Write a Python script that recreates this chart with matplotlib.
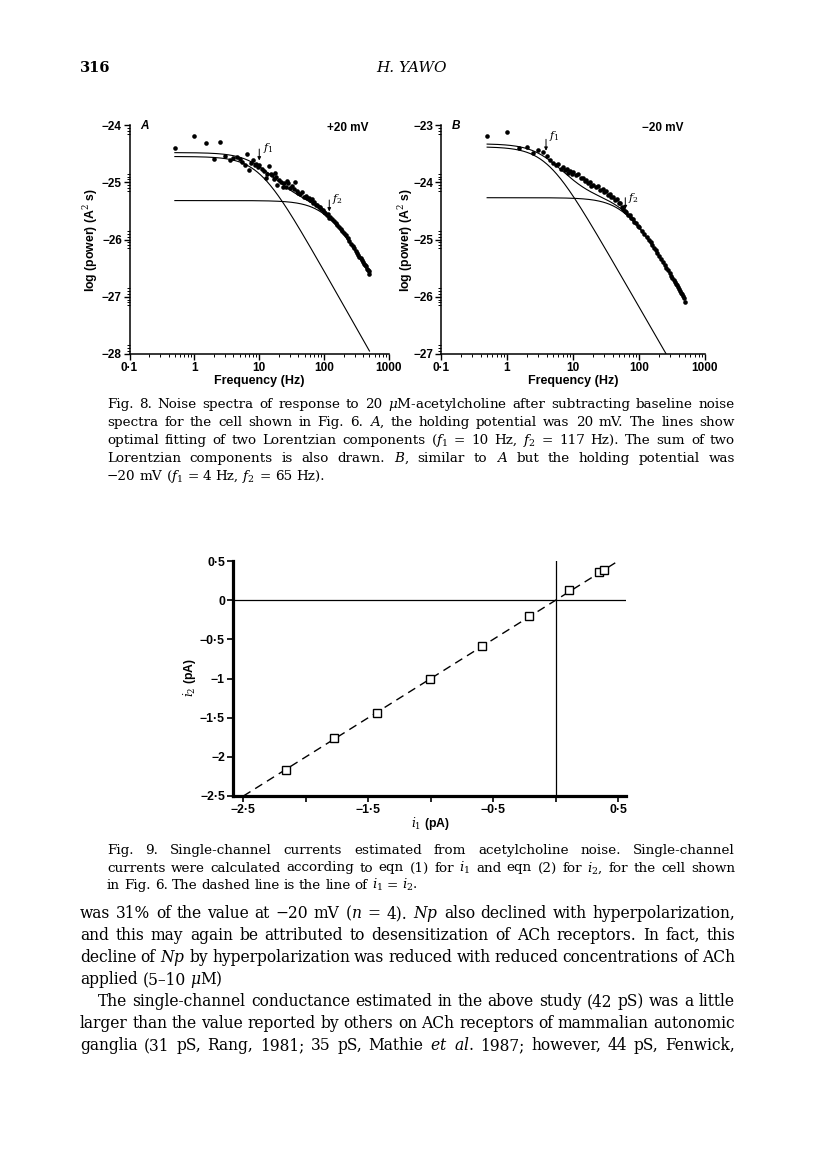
import matplotlib
matplotlib.use("Agg")
import matplotlib.pyplot as plt
import numpy as np
from matplotlib.ticker import FixedLocator, NullFormatter

plt.rcParams["font.family"] = "sans-serif"
plt.rcParams["font.sans-serif"] = ["Liberation Sans", "DejaVu Sans"]
plt.rcParams["mathtext.fontset"] = "dejavuserif"

W, H = 816, 1170

# === Fig. 8 data ===
# A: +20 mV, Lorentzian fit f1 = 10 Hz, f2 = 117 Hz
A_freq = [0.5, 1.0, 1.5, 2.0, 2.5, 3.0, 3.5, 4.0, 4.5, 5.0, 5.5, 6.0, 6.5, 7.0, 7.5,
          8.0, 8.5, 9.0, 9.5, 10, 11, 12, 12.5, 13, 14, 15, 16, 17, 17.5, 18, 19, 20,
          22, 23, 24, 26, 27, 28, 30, 32, 34, 36, 38, 40, 43, 46, 49, 52, 55, 58, 61,
          64, 67, 70, 74, 78, 82, 86, 90, 95, 100, 105, 110, 115, 120, 125, 130, 140,
          150, 160, 170, 180, 190, 200, 215, 230, 245, 260, 275, 290, 305, 320, 335,
          350, 365, 380, 395, 410, 425, 440, 455, 470, 485, 500]
A_logp = [-24.41, -24.19, -24.32, -24.59, -24.30, -24.55, -24.62, -24.58, -24.56, -24.60,
          -24.64, -24.70, -24.51, -24.78, -24.66, -24.62, -24.70, -24.68, -24.74, -24.69,
          -24.76, -24.80, -24.92, -24.86, -24.72, -24.85, -24.88, -24.95, -24.84, -24.90,
          -25.05, -24.96, -25.00, -25.08, -25.02, -25.08, -24.98, -25.01, -25.10, -25.06,
          -25.12, -25.00, -25.15, -25.18, -25.20, -25.17, -25.25, -25.24, -25.28, -25.27,
          -25.31, -25.30, -25.36, -25.35, -25.40, -25.39, -25.44, -25.43, -25.47, -25.48,
          -25.52, -25.53, -25.57, -25.56, -25.62, -25.60, -25.65, -25.68, -25.72, -25.75,
          -25.79, -25.82, -25.85, -25.89, -25.93, -25.98, -26.03, -26.07, -26.11, -26.15,
          -26.20, -26.23, -26.27, -26.30, -26.33, -26.36, -26.39, -26.42, -26.45, -26.47,
          -26.51, -26.53, -26.55, -26.60]
A_s1, A_f1 = -24.55, 10.0
A_s2, A_f2 = -25.32, 117.0

# B: -20 mV, Lorentzian fit f1 = 4 Hz, f2 = 65 Hz
B_freq = [0.5, 1.0, 1.5, 2.0, 2.5, 3.0, 3.5, 4.0, 4.5, 5.0, 5.5, 6.0, 6.5, 7.0, 7.5,
          8.0, 8.5, 9.0, 9.5, 10, 11, 12, 13, 14, 15, 16, 17, 18, 19, 20, 22, 24, 26,
          28, 30, 32, 34, 36, 38, 40, 43, 46, 49, 52, 55, 58, 61, 64, 68, 72, 76, 80,
          85, 90, 95, 100, 110, 120, 130, 140, 150, 160, 170, 180, 190, 200, 215, 230,
          245, 260, 275, 290, 305, 320, 335, 350, 365, 380, 395, 410, 425, 440, 455,
          470, 485, 500]
B_logp = [-23.19, -23.13, -23.41, -23.38, -23.49, -23.44, -23.47, -23.55, -23.62, -23.66,
          -23.70, -23.68, -23.76, -23.74, -23.79, -23.77, -23.83, -23.80, -23.85, -23.82,
          -23.88, -23.86, -23.93, -23.92, -23.98, -23.96, -24.02, -24.00, -24.06, -24.04,
          -24.09, -24.07, -24.13, -24.12, -24.17, -24.16, -24.22, -24.20, -24.26, -24.25,
          -24.31, -24.30, -24.37, -24.37, -24.44, -24.46, -24.51, -24.52, -24.57, -24.58,
          -24.63, -24.65, -24.70, -24.72, -24.76, -24.78, -24.85, -24.91, -24.95, -25.01,
          -25.05, -25.10, -25.15, -25.19, -25.24, -25.28, -25.34, -25.40, -25.45, -25.50,
          -25.54, -25.59, -25.63, -25.67, -25.70, -25.74, -25.77, -25.80, -25.83, -25.87,
          -25.90, -25.93, -25.96, -25.99, -26.02, -26.10]
B_s1, B_f1 = -23.38, 4.0
B_s2, B_f2 = -24.27, 65.0

freq_ticks = [0.1, 1, 10, 100, 1000]
freq_labels = ["0·1", "1", "10", "100", "1000"]

# === Fig. 9 data ===
i1 = [-2.162, -1.775, -1.433, -1.006, -0.588, -0.214, 0.109, 0.347, 0.387]
i2 = [-2.17, -1.76, -1.44, -1.00, -0.587, -0.204, 0.128, 0.354, 0.383]
i_ticks = [-2.5, -2.0, -1.5, -1.0, -0.5, 0.0, 0.5]
i1_labels = ["−2·5", "", "−1·5", "", "−0·5", "", "0·5"]
i2_labels = ["−2·5", "−2", "−1·5", "−1", "−0·5", "0", "0·5"]

fig = plt.figure(figsize=(W / 100, H / 100), dpi=100)


def px_rect(x0, y0, x1, y1):
    return [x0 / W, 1 - y1 / H, (x1 - x0) / W, (y1 - y0) / H]


def lorentz(f, s, fc):
    return s - np.log10(1 + (f / fc) ** 2)


def spectrum_panel(rect, freq, logp, s1, f1, s2, f2, ylo, letter, mv, arrows):
    ax = fig.add_axes(px_rect(*rect))
    ax.set_xscale("log")
    ax.set_xlim(0.1, 1000)
    ax.set_ylim(ylo, ylo + 4)
    for s in ("top", "right"):
        ax.spines[s].set_visible(False)
    for s in ("left", "bottom"):
        ax.spines[s].set_linewidth(1.1)

    # fitted Lorentzian components and their sum
    f = np.logspace(np.log10(0.5), np.log10(500), 300)
    c1 = lorentz(f, s1, f1)
    c2 = lorentz(f, s2, f2)
    tot = np.log10(10 ** c1 + 10 ** c2)
    for curve in (c1, c2, tot):
        ax.plot(f, curve, color="k", lw=0.8)
    ax.plot(freq, logp, "o", color="k", ms=3.3, mew=0)

    ax.set_xticks(freq_ticks)
    ax.set_xticklabels(freq_labels)
    ax.xaxis.set_minor_locator(FixedLocator(
        [k * 10.0 ** e for e in range(-1, 3) for k in range(2, 10)]))
    ax.xaxis.set_minor_formatter(NullFormatter())
    yt = list(range(int(ylo), int(ylo) + 5))
    ax.set_yticks(yt)
    ax.set_yticklabels(["−%d" % abs(v) for v in yt])
    ax.yaxis.set_minor_locator(FixedLocator(
        [v + d for v in yt for d in (-0.15, -0.1, -0.05, 0.05, 0.1, 0.15)
         if ylo <= v + d <= ylo + 4]))
    ax.tick_params(which="major", direction="out", length=4, width=1.0, pad=1.5,
                   labelsize=8.5)
    ax.tick_params(which="minor", direction="out", length=2, width=0.7)
    for lab in ax.get_xticklabels() + ax.get_yticklabels():
        lab.set_fontweight("bold")

    ax.text(0.04, 0.995, letter, transform=ax.transAxes, fontsize=8.5,
            fontweight="bold", style="italic", va="center", ha="left")
    ax.text(0.84, 0.985, mv, transform=ax.transAxes, fontsize=8.5,
            fontweight="bold", va="center", ha="center")

    for fx, tip, name, lx, ly in arrows:
        ax.annotate("", xy=(fx, tip), xytext=(fx, tip + 0.2),
                    arrowprops=dict(arrowstyle="-|>", lw=0.7, color="k",
                                    mutation_scale=5, shrinkA=0, shrinkB=0))
        ax.text(lx, ly, name, fontsize=8, ha="left", va="center")
    return ax


axA = spectrum_panel((129.5, 125, 389, 354), A_freq, A_logp, A_s1, A_f1, A_s2, A_f2,
                     -28, "A", "+20 mV",
                     [(10, -24.62, "$f_1$", 11.5, -24.40),
                      (120, -25.51, "$f_2$", 130, -25.29)])
axB = spectrum_panel((441, 125, 705, 354), B_freq, B_logp, B_s1, B_f1, B_s2, B_f2,
                     -27, "B", "−20 mV",
                     [(3.9, -23.45, "$f_1$", 4.4, -23.20),
                      (62, -24.47, "$f_2$", 68, -24.27)])

for x, cx in ((91, 259), (406, 573)):
    fig.text(x / W, 1 - 240 / H, "log (power) (A$^2$ s)", rotation=90, fontsize=8.8,
             fontweight="bold", ha="center", va="center")
    fig.text(cx / W, 1 - 381 / H, "Frequency (Hz)", fontsize=9, fontweight="bold",
             ha="center", va="center")

# === Fig. 9 ===
ax9 = fig.add_axes(px_rect(233.3, 561, 626.3, 796))
ax9.set_xlim(-2.581, 0.565)
ax9.set_ylim(-2.5, 0.5)
for s in ("top", "right"):
    ax9.spines[s].set_visible(False)
for s in ("left", "bottom"):
    ax9.spines[s].set_linewidth(2.3)
ax9.axhline(0, color="k", lw=0.9)
ax9.axvline(0, color="k", lw=0.9)
ax9.plot([-2.5, 0.6], [-2.5, 0.6], color="k", lw=1.0, dashes=(6, 4))
ax9.plot(i1, i2, "s", ms=6, mfc="white", mec="k", mew=1.0)
ax9.set_xticks(i_ticks)
ax9.set_xticklabels(i1_labels)
ax9.set_yticks(i_ticks)
ax9.set_yticklabels(i2_labels)
ax9.tick_params(direction="out", length=4, width=1.2, pad=2, labelsize=8.8)
for lab in ax9.get_xticklabels() + ax9.get_yticklabels():
    lab.set_fontweight("bold")
fig.text(430 / W, 1 - 823 / H, "$i_1$ (pA)", fontsize=8.8, fontweight="bold",
         ha="center", va="center")
fig.text(190 / W, 1 - 678 / H, "$i_2$ (pA)", fontsize=8.8, fontweight="bold",
         rotation=90, ha="center", va="center")

# === page text ===
renderer = fig.canvas.get_renderer()


def text_line(x0, x1, y, line, size, justify=True):
    words = line.split(" ")
    ts = [fig.text(0, 1 - y / H, w, fontsize=size, family="DejaVu Serif",
                   va="baseline", ha="left") for w in words]
    ws = [t.get_window_extent(renderer).width for t in ts]
    gap = size * 0.3 * 100 / 72
    if justify and len(words) > 1:
        gap = max((x1 - x0 - sum(ws)) / (len(words) - 1), 2.0)
    x = x0
    for t, w in zip(ts, ws):
        t.set_x(x / W)
        x += w + gap


fig.text(80 / W, 1 - 72 / H, "316", fontsize=10.5, family="DejaVu Serif",
         fontweight="bold", va="baseline")
fig.text(411 / W, 1 - 72 / H, "H. YAWO", fontsize=11, family="DejaVu Serif",
         style="italic", ha="center", va="baseline")

cap8 = [
    "Fig. 8. Noise spectra of response to 20 $\\mu$M-acetylcholine after subtracting baseline noise",
    "spectra for the cell shown in Fig. 6. $A$, the holding potential was 20 mV. The lines show",
    "optimal fitting of two Lorentzian components ($f_1$ = 10 Hz, $f_2$ = 117 Hz). The sum of two",
    "Lorentzian components is also drawn. $B$, similar to $A$ but the holding potential was",
    "−20 mV ($f_1$ = 4 Hz, $f_2$ = 65 Hz).",
]
for k, line in enumerate(cap8):
    text_line(107, 735, 408 + 18 * k, line, 9.7, justify=k < len(cap8) - 1)

cap9 = [
    "Fig. 9. Single-channel currents estimated from acetylcholine noise. Single-channel",
    "currents were calculated according to eqn (1) for $i_1$ and eqn (2) for $i_2$, for the cell shown",
    "in Fig. 6. The dashed line is the line of $i_1$ = $i_2$.",
]
for k, line in enumerate(cap9):
    text_line(107, 735, 854 + 17.5 * k, line, 9.7, justify=k < len(cap9) - 1)

body = [
    (80, "was 31% of the value at −20 mV ($n$ = 4). $Np$ also declined with hyperpolarization,", True),
    (80, "and this may again be attributed to desensitization of ACh receptors. In fact, this", True),
    (80, "decline of $Np$ by hyperpolarization was reduced with reduced concentrations of ACh", True),
    (80, "applied (5–10 $\\mu$M)", False),
    (98, "The single-channel conductance estimated in the above study (42 pS) was a little", True),
    (80, "larger than the value reported by others on ACh receptors of mammalian autonomic", True),
    (80, "ganglia (31 pS, Rang, 1981; 35 pS, Mathie $et$ $al.$ 1987; however, 44 pS, Fenwick,", True),
]
for k, (x0, line, just) in enumerate(body):
    text_line(x0, 735, 918 + 22 * k, line, 11.2, justify=just)

fig.savefig("out.png", dpi=100)
